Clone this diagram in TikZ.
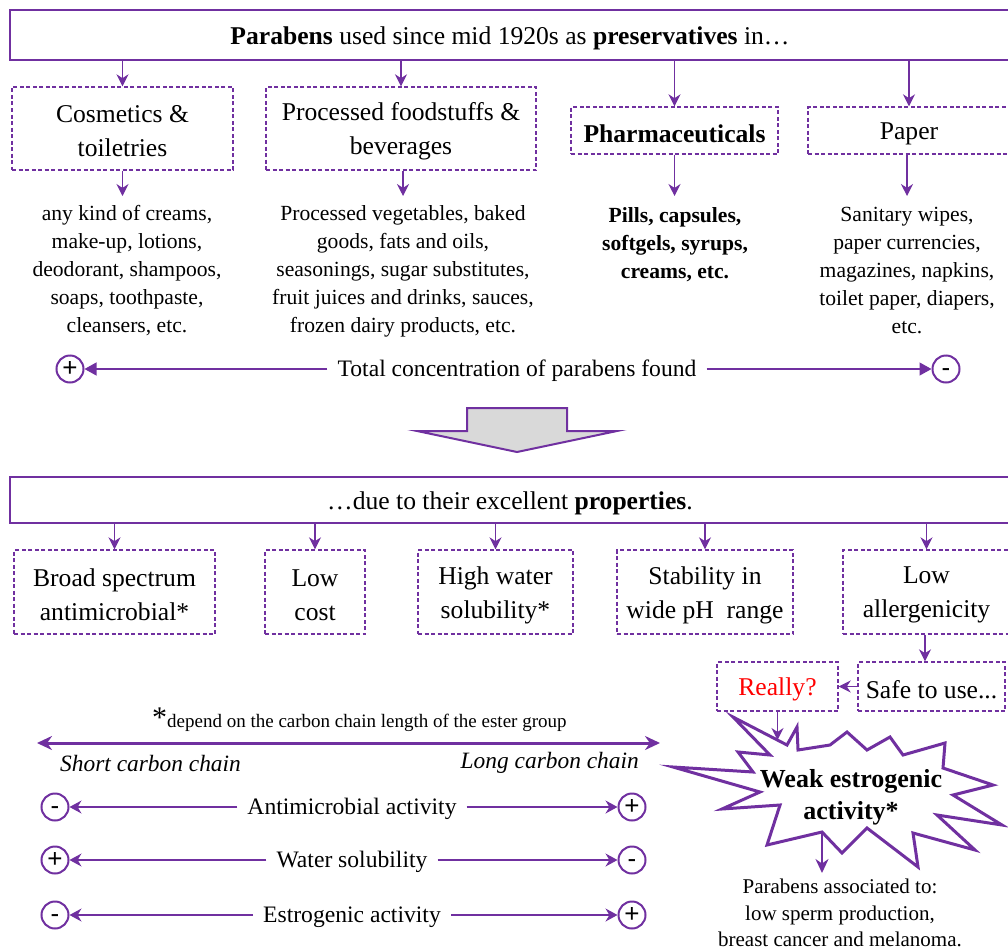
\documentclass[tikz,border=0pt]{standalone}
\usepackage{fontspec}
\setmainfont{Liberation Serif}
\newfontfamily\signfont{Liberation Sans}
\usetikzlibrary{arrows.meta}
\definecolor{pp}{HTML}{7030A0}
\definecolor{arrowgray}{HTML}{D9D9D9}
\tikzset{
  solidbox/.style={draw=pp, line width=2pt, minimum width=1000pt, minimum height=#1, inner sep=0pt},
  dbox/.style={draw=pp, line width=1.4pt, dash pattern=on 4pt off 2.5pt, inner sep=0pt},
  boxlabel/.style={align=center, inner sep=0pt, font=\fontsize{25.6}{34}\selectfont},
  desc/.style={align=center, font=\fontsize{21.6}{28}\selectfont, inner xsep=1pt, inner ysep=9pt},
  down/.style={draw=pp, line width=1.3pt, -{Stealth[length=12pt,width=12pt]}},
  sign/.style={circle, draw=pp, line width=2pt, minimum size=27pt, inner sep=0pt,
    text height=14.6pt, text depth=0pt, font=\signfont\fontsize{26}{26}\selectfont},
  side/.style={draw=pp, line width=1.2pt, -{Triangle[length=12pt,width=13pt]}},
  thinside/.style={draw=pp, line width=1.2pt, -{Stealth[length=12pt,width=13pt]}},
  rowtext/.style={font=\fontsize{23.6}{28}\selectfont, inner ysep=2pt, inner xsep=10pt},
  chain/.style={inner sep=0pt, font=\itshape\fontsize{23.4}{28}\selectfont},
}
\begin{document}
\begin{tikzpicture}[x=1pt,y=-1pt]
\useasboundingbox (0,0) rectangle (1008,950);
\clip (0,0) rectangle (1008,950);

% ---- uses ----
\node[solidbox=50pt] (top) at (510,35) {};
\node[boxlabel] (topt) at ([yshift=-3pt]top.center) {\textbf{Parabens} used since mid 1920s as \textbf{preservatives} in…};

\node[dbox, minimum width=221pt, minimum height=83pt] (cos) at (122.5,128.5) {};
\node[boxlabel] (cost) at ([yshift=-3pt]cos.center) {Cosmetics \&\\toiletries};
\node[dbox, minimum width=270pt, minimum height=83pt] (food) at (401,128.5) {};
\node[boxlabel] (foodt) at ([yshift=-3pt]food.center) {Processed foodstuffs \&\\beverages};
\node[dbox, minimum width=207pt, minimum height=47pt] (pharma) at (674.5,130.5) {};
\node[boxlabel] (pharmat) at ([yshift=-3pt]pharma.center) {\textbf{Pharmaceuticals}};
\node[dbox, minimum width=202pt, minimum height=47pt] (paper) at (909,130.5) {};
\node[boxlabel] (papert) at ([yshift=-3pt]paper.center) {Paper};

\foreach \b in {cos,food,pharma,paper}
  \draw[down] (top.south -| \b.north) -- (\b.north);

\node[desc, anchor=north] (cosd) at (127,196) {any kind of creams,\\make-up, lotions,\\deodorant, shampoos,\\soaps, toothpaste,\\cleansers, etc.};
\node[desc, anchor=north] (foodd) at (403,196) {Processed vegetables, baked\\goods, fats and oils,\\seasonings, sugar substitutes,\\fruit juices and drinks, sauces,\\frozen dairy products, etc.};
\node[desc, anchor=north, inner ysep=11pt, font=\bfseries\fontsize{21.6}{28}\selectfont] (pharmad) at (675,196) {Pills, capsules,\\softgels, syrups,\\creams, etc.};
\node[desc, anchor=north, inner ysep=11pt] (paperd) at (907,196) {Sanitary wipes,\\paper currencies,\\magazines, napkins,\\toilet paper, diapers,\\etc.};

\draw[down] (cos.south) -- (cos.south |- cosd.north);
\draw[down] (food.south -| foodd.north) -- (foodd.north);
\draw[down] (pharma.south) -- (pharma.south |- pharmad.north);
\draw[down] (paper.south -| paperd.north) -- (paperd.north);

% ---- total concentration ----
\node[sign] (cp) at (70,369) {+};
\node[sign] (cm) at (946,369) {-};
\node[rowtext] (conc) at (517,369) {};
\node[rowtext] (conct) at ([yshift=-2pt]conc.center) {Total concentration of parabens found};
\draw[side] (conct.west |- conc.west) -- (cp.east);
\draw[side] (conct.east |- conc.east) -- (cm.west);

% ---- block arrow ----
\draw[pp, line width=2pt, fill=arrowgray, line join=miter]
  (467,408) -- (567,408) -- (567,431) -- (617,431) -- (517,452) -- (417,431) -- (467,431) -- cycle;

% ---- properties ----
\node[solidbox=46pt] (props) at (510,500) {};
\node[boxlabel] (propst) at ([yshift=-3pt]props.center) {…due to their excellent \textbf{properties}.};

\node[dbox, minimum width=201pt, minimum height=84pt] (bs) at (114.5,592) {};
\node[boxlabel] (bst) at ([yshift=-3pt]bs.center) {Broad spectrum\\antimicrobial*};
\node[dbox, minimum width=100pt, minimum height=84pt] (lc) at (315,592) {};
\node[boxlabel] (lct) at ([yshift=-3pt]lc.center) {Low\\cost};
\node[dbox, minimum width=155pt, minimum height=84pt] (hw) at (495.5,592) {};
\node[boxlabel] (hwt) at ([yshift=-3pt]hw.center) {High water\\solubility*};
\node[dbox, minimum width=176pt, minimum height=84pt] (st) at (705,592) {};
\node[boxlabel] (stt) at ([yshift=-3pt]st.center) {Stability in\\wide pH\ \ range};
\node[dbox, minimum width=167pt, minimum height=84pt] (la) at (926.5,592) {};
\node[boxlabel] (lat) at ([yshift=-3pt]la.center) {Low\\allergenicity};

\foreach \b in {bs,lc,hw,st,la}
  \draw[down] (props.south -| \b.north) -- (\b.north);

\node[dbox, minimum width=147pt, minimum height=49pt] (safe) at (931.5,686.5) {};
\node[boxlabel] (safet) at ([yshift=-3pt]safe.center) {Safe to use...};
\node[dbox, minimum width=121pt, minimum height=49pt] (really) at (777.5,686.5) {};
\node[boxlabel, text=red] (reallyt) at ([yshift=-3pt]really.center) {Really?};
\draw[down] (la.south -| 925,0) -- (925,0 |- safe.north);
\draw[down] (safe.west) -- (really.east);

% ---- burst ----
\draw[pp, line width=3pt, line join=miter, fill=white]
  (733,717) -- (787,745) -- (797,727) -- (798,750) -- (830,745) -- (847,732) --
  (867,750) -- (890,737) -- (903,755) -- (945,743) -- (943,768) -- (993,785) --
  (953,795) -- (1002,825) -- (937,815) -- (975,850) -- (913,833) -- (918,867) --
  (867,828) -- (842,853) -- (822,832) -- (767,845) -- (780,805) -- (722,809) --
  (760,792) -- (673,767) -- (753,772) -- (738,752) -- (770,755) -- cycle;
\node[align=center, inner sep=0pt, font=\bfseries\fontsize{26}{32}\selectfont] (weak) at (851,797) {Weak estrogenic\\activity*};

\coordinate (starin) at (777.5,740);
\draw[down] (really.south) -- (starin);

\coordinate (starout) at (822,831);
\node[desc, anchor=north, inner ysep=6pt, font=\fontsize{21}{26.5}\selectfont] (assoc) at (840,873) {Parabens associated to:\\low sperm production,\\breast cancer and melanoma.};
\draw[pp, line width=2.5pt, -{Stealth[length=14pt,width=13pt]}] (starout) -- (starout |- assoc.north);

% ---- carbon chain length ----
\node[anchor=base west, inner sep=0pt] (note) at (152,727.5)
  {{\fontsize{30}{30}\selectfont *}{\fontsize{19}{22}\selectfont depend on the carbon chain length of the ester group}};
\coordinate (cl) at (37,743);
\coordinate (cr) at (660,743);
\draw[pp, line width=3pt, {Stealth[length=15pt,width=14pt]}-{Stealth[length=15pt,width=14pt]}] (cl) -- (cr);
\node[chain, anchor=west] (short) at (60,763) {Short carbon chain};
\node[chain, anchor=east] (long) at (639,763) {Long carbon chain};

\node[sign] (a1) at (55,807) {-};
\node[sign] (b1) at (632,807) {+};
\node[rowtext] (r1) at (352,809) {Antimicrobial activity};
\draw[thinside] (r1.west |- a1) -- (a1.east);
\draw[thinside] (r1.east |- b1) -- (b1.west);

\node[sign] (a2) at (55,860) {+};
\node[sign] (b2) at (632,860) {-};
\node[rowtext] (r2) at (352,862) {Water solubility};
\draw[thinside] (r2.west |- a2) -- (a2.east);
\draw[thinside] (r2.east |- b2) -- (b2.west);

\node[sign] (a3) at (55,915) {-};
\node[sign] (b3) at (632,915) {+};
\node[rowtext] (r3) at (352,917) {Estrogenic activity};
\draw[thinside] (r3.west |- a3) -- (a3.east);
\draw[thinside] (r3.east |- b3) -- (b3.west);
\end{tikzpicture}
\end{document}
